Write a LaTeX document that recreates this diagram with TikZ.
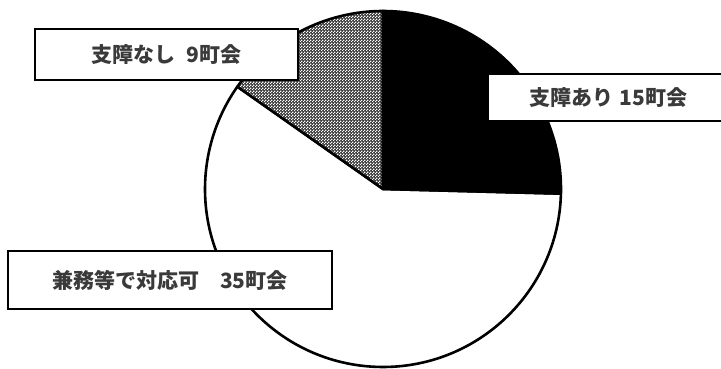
\documentclass[tikz,border=0pt]{standalone}
\usepackage{fontspec}
\newfontfamily\jp{Noto Sans CJK JP}
\usetikzlibrary{patterns}
\pgfdeclarepatternformonly{finecheck}{\pgfpointorigin}{\pgfqpoint{3pt}{3pt}}{\pgfqpoint{3pt}{3pt}}{%
  \pgfpathrectangle{\pgfpointorigin}{\pgfqpoint{1.5pt}{1.5pt}}%
  \pgfpathrectangle{\pgfqpoint{1.5pt}{1.5pt}}{\pgfqpoint{1.5pt}{1.5pt}}%
  \pgfusepath{fill}}
\definecolor{txt}{HTML}{3A3A3A}
\tikzset{
  slice/.style={draw=black, line width=2.6pt, line join=round},
  lbl/.style={draw=black, fill=white, line width=1.6pt, inner sep=0pt,
    font=\jp\bfseries\fontsize{21pt}{24pt}\selectfont, text=txt}
}
\begin{document}
\begin{tikzpicture}[x=1pt,y=1pt]
\useasboundingbox (0,0) rectangle (721,369);
\clip (0,0) rectangle (721,369);
\fill[white] (0,0) rectangle (721,369);
\coordinate (c) at (383,180);
% white slice 35
\draw[slice, fill=white] (c) -- ++(-1.5:178) arc[start angle=-1.5, end angle=-215.1, radius=178] -- cycle;
% hatched slice 9
\fill[gray!45!black] (c) -- ++(144.9:178) arc[start angle=144.9, end angle=90, radius=178] -- cycle;
\fill[pattern=finecheck, pattern color=white] (c) -- ++(144.9:178) arc[start angle=144.9, end angle=90, radius=178] -- cycle;
\draw[slice] (c) -- ++(144.9:178) arc[start angle=144.9, end angle=90, radius=178] -- cycle;
% black slice 15
\draw[slice, fill=black] (c) -- ++(90:178) arc[start angle=90, end angle=-1.5, radius=178] -- cycle;
% labels
\node[lbl, minimum width=263pt, minimum height=51pt] (nashi) at (166.5,314.5) {支障なし\hspace{0.55em}9町会};
\node[lbl, minimum width=241pt, minimum height=47pt] (ari) at (608.5,271.5) {支障あり\hspace{0.3em}15町会};
\node[lbl, minimum width=324pt, minimum height=58pt] (kenmu) at (170,89) {兼務等で対応可　35町会};
\end{tikzpicture}
\end{document}
